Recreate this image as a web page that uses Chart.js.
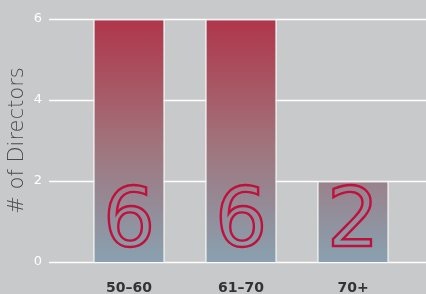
<!DOCTYPE html>
<html>
<head>
<meta charset="utf-8">
<script src="https://cdn.jsdelivr.net/npm/chart.js@4/dist/chart.umd.min.js"></script>
<style>
  html, body { margin: 0; padding: 0; background: #c8c9ca; }
  #wrap { width: 426px; height: 294px; }
</style>
</head>
<body>
<div id="wrap"><canvas id="chart"></canvas></div>
<script>
const age_groups = ["50\u201360", "61\u201370", "70+"];
const director_counts = [6, 6, 2];
const y_ticks = [0, 2, 4, 6];

// full-width horizontal grid lines, from the y scale
const gridPlugin = {
  id: "fullGrid",
  beforeDatasetsDraw(chart) {
    const ctx = chart.ctx;
    const y = chart.scales.y;
    ctx.save();
    ctx.strokeStyle = "#ffffff";
    ctx.lineWidth = 1.5;
    y.ticks.forEach(function (t) {
      const py = Math.round(y.getPixelForValue(t.value)) + 0.5;
      ctx.beginPath();
      ctx.moveTo(49, py);
      ctx.lineTo(chart.width, py);
      ctx.stroke();
    });
    ctx.restore();
  },
};

// big outlined count numbers inside the bars
const countPlugin = {
  id: "counts",
  afterDatasetsDraw(chart) {
    const ctx = chart.ctx;
    const meta = chart.getDatasetMeta(0);
    ctx.save();
    ctx.font = "400 82px 'DejaVu Sans'";
    ctx.textAlign = "center";
    ctx.textBaseline = "alphabetic";
    ctx.strokeStyle = "#c0103c";
    ctx.lineWidth = 2.4;
    meta.data.forEach(function (bar, i) {
      ctx.strokeText(String(director_counts[i]), bar.x, bar.base - 16);
    });
    ctx.restore();
  },
};

function barGradient(context) {
  const area = context.chart.chartArea;
  if (!area) return "#a06070";
  const g = context.chart.ctx.createLinearGradient(0, area.top, 0, area.bottom);
  g.addColorStop(0, "#b0354a");
  g.addColorStop(0.5, "#a1727a");
  g.addColorStop(1, "#89a1b0");
  return g;
}

function main() {
  Chart.defaults.font.family = "'DejaVu Sans', sans-serif";
  new Chart(document.getElementById("chart"), {
    type: "bar",
    data: {
      labels: age_groups,
      datasets: [
        {
          data: director_counts,
          backgroundColor: barGradient,
          borderColor: "#f4f4f4",
          borderWidth: 1.5,
          barPercentage: 0.64,
          categoryPercentage: 1,
        },
      ],
    },
    options: {
      responsive: true,
      maintainAspectRatio: false,
      animation: false,
      layout: { autoPadding: false, padding: { top: 19, right: 17, left: 0, bottom: 0 } },
      plugins: { legend: { display: false }, tooltip: { enabled: false } },
      scales: {
        x: {
          grid: { display: false },
          border: { display: false },
          afterFit(scale) {
            scale.height = 32;
            scale.paddingTop = 0;
            scale.paddingBottom = 0;
          },
          ticks: {
            padding: 10,
            color: "#333333",
            font: { size: 14, weight: "bold" },
          },
        },
        y: {
          min: 0,
          max: 6,
          afterBuildTicks(scale) {
            scale.ticks = y_ticks.map(function (v) { return { value: v }; });
          },
          afterFit(scale) {
            scale.width = 73;
            scale.paddingTop = 0;
            scale.paddingBottom = 0;
          },
          grid: { display: false },
          border: { display: false },
          ticks: {
            padding: 23,
            color: "#ffffff",
            font: { size: 13 },
          },
          title: {
            display: true,
            text: "# of Directors",
            color: "#4a4a4a",
            font: { size: 21, weight: "200" },
            padding: { top: 5, bottom: 0 },
          },
        },
      },
    },
    plugins: [gridPlugin, countPlugin],
  });
}

document.addEventListener("DOMContentLoaded", main, false);
</script>
</body>
</html>
